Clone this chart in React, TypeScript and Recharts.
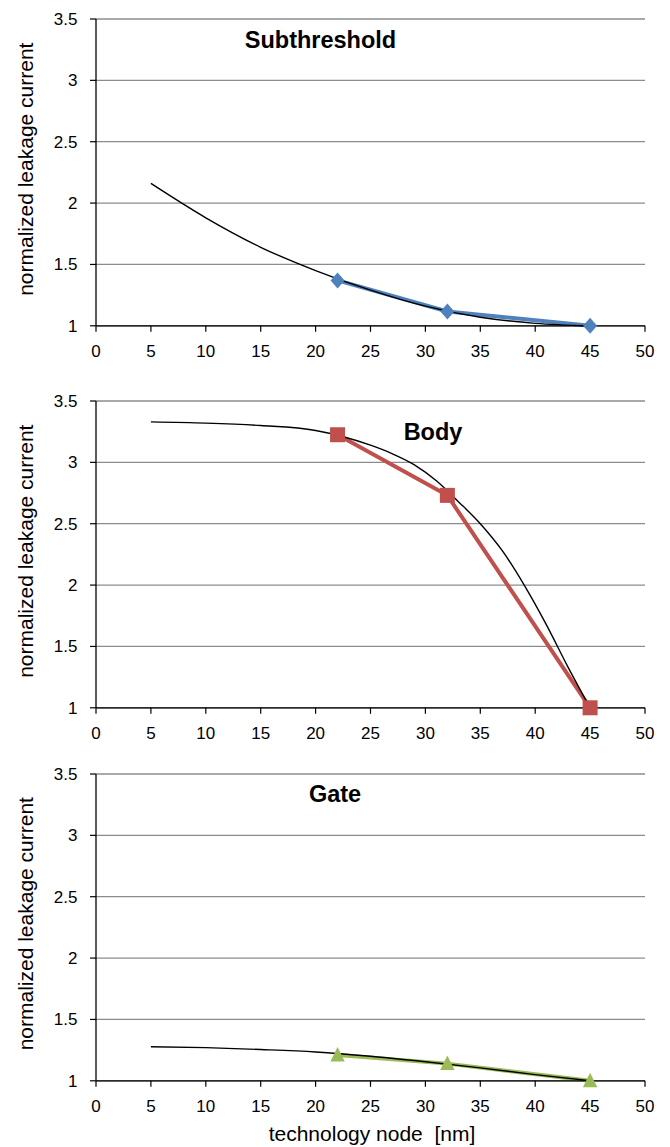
import React from "react";
import { LineChart, Line, XAxis, YAxis, CartesianGrid } from "recharts";

// ---- data ----
const xTicks = [0, 5, 10, 15, 20, 25, 30, 35, 40, 45, 50];
const yTicks = [1, 1.5, 2, 2.5, 3, 3.5];
const nodes = [22, 32, 45];

const subthresholdValues = [1.37, 1.117, 1.0];
const bodyValues = [3.225, 2.731, 1.0];
const gateValues = [1.21, 1.14, 1.0];

const subTrendX = [5, 10, 15, 20, 25, 30, 35, 40, 45];
const subTrendY = [2.16, 1.88, 1.64, 1.45, 1.29, 1.16, 1.07, 1.02, 1.0];

const bodyTrendX = [5, 10, 15, 20, 25, 27, 29, 31, 33, 35, 37, 39, 41, 43, 45];
const bodyTrendY = [3.33, 3.32, 3.3, 3.26, 3.14, 3.07, 2.98, 2.85, 2.68, 2.5, 2.28, 2.0, 1.68, 1.33, 1.0];

const gateTrendX = [5, 10, 15, 20, 25, 30, 35, 40, 45];
const gateTrendY = [1.277, 1.27, 1.255, 1.235, 1.2, 1.155, 1.105, 1.05, 1.0];

const titles = ["Subthreshold", "Body", "Gate"];
const yLabel = "normalized leakage current";
const xLabel = "technology node  [nm]";

const zip = (xs: number[], ys: number[]) => xs.map((x, i) => ({ x, y: ys[i] }));

// ---- layout ----
const FONT = "'Liberation Sans', Arial, Helvetica, sans-serif";
const PLOT_LEFT = 96;
const PLOT_RIGHT = 645;
const PLOT_H = 306.8;
const CHART_TOPS = [19.3, 401.3, 773.8];
const PAD_TOP = 19;

const BLUE = "#4F81BD";
const RED = "#C0504D";
const GREEN = "#9BBB59";

const YTick = (props: any) => {
  const { x, y, payload } = props;
  return (
    <text x={x} y={y + 6} textAnchor="end" fontSize={17} fontFamily={FONT} fill="#000">
      {String(payload.value)}
    </text>
  );
};

const XTick = (props: any) => {
  const { x, y, payload } = props;
  return (
    <text x={x} y={y + 23.5} textAnchor="middle" fontSize={17} fontFamily={FONT} fill="#000">
      {String(payload.value)}
    </text>
  );
};

const diamond = (color: string) => (p: any) => {
  const { cx, cy, index } = p;
  if (cx == null || cy == null) return <g key={index} />;
  return (
    <path
      key={index}
      d={`M${cx},${cy - 8} L${cx + 7},${cy} L${cx},${cy + 8} L${cx - 7},${cy} Z`}
      fill={color}
    />
  );
};

const square = (color: string) => (p: any) => {
  const { cx, cy, index } = p;
  if (cx == null || cy == null) return <g key={index} />;
  return <rect key={index} x={cx - 7.5} y={cy - 7.5} width={15} height={15} fill={color} />;
};

const triangle = (color: string) => (p: any) => {
  const { cx, cy, index } = p;
  if (cx == null || cy == null) return <g key={index} />;
  return (
    <path
      key={index}
      d={`M${cx},${cy - 8} L${cx + 7.2},${cy + 6.5} L${cx - 7.2},${cy + 6.5} Z`}
      fill={color}
    />
  );
};

type PanelProps = {
  top: number;
  values: number[];
  trendX: number[];
  trendY: number[];
  color: string;
  dot: (p: any) => React.ReactElement;
};

const Panel = ({ top, values, trendX, trendY, color, dot }: PanelProps) => {
  const height = PAD_TOP + PLOT_H + 40;
  return (
    <div style={{ position: "absolute", left: 0, top: top - PAD_TOP }}>
      <LineChart
        width={670}
        height={height}
        margin={{ top: PAD_TOP, right: 670 - PLOT_RIGHT, left: 0, bottom: 0 }}
      >
        <CartesianGrid vertical={false} stroke="#8c8c8c" strokeWidth={1.3} />
        <XAxis
          type="number"
          dataKey="x"
          domain={[0, 50]}
          ticks={xTicks}
          interval={0}
          height={40}
          axisLine={{ stroke: "#000", strokeWidth: 1.3 }}
          tickLine={{ stroke: "#000", strokeWidth: 1.2 }}
          tickSize={6}
          tickMargin={2}
          tick={<XTick />}
        />
        <YAxis
          type="number"
          dataKey="y"
          domain={[1, 3.5]}
          ticks={yTicks}
          interval={0}
          width={PLOT_LEFT}
          axisLine={{ stroke: "#000", strokeWidth: 1.3 }}
          tickLine={{ stroke: "#000", strokeWidth: 1.2 }}
          tickSize={6}
          tickMargin={12.5}
          tick={<YTick />}
        />
        <Line
          data={zip(nodes, values)}
          dataKey="y"
          type="linear"
          stroke={color}
          strokeWidth={4}
          dot={dot}
          activeDot={false}
          isAnimationActive={false}
        />
        <Line
          data={zip(trendX, trendY)}
          dataKey="y"
          type="monotone"
          stroke="#000"
          strokeWidth={1.4}
          dot={false}
          activeDot={false}
          isAnimationActive={false}
        />
      </LineChart>
    </div>
  );
};

const titlePos = [
  { x: 320.5, y: 48.3 },
  { x: 433, y: 440 },
  { x: 335, y: 801.7 },
];

export default function App() {
  return (
    <div
      style={{
        position: "absolute",
        left: 0,
        top: 0,
        width: 670,
        height: 1147,
        background: "#fff",
        overflow: "hidden",
      }}
    >
      <Panel top={CHART_TOPS[0]} values={subthresholdValues} trendX={subTrendX} trendY={subTrendY} color={BLUE} dot={diamond(BLUE)} />
      <Panel top={CHART_TOPS[1]} values={bodyValues} trendX={bodyTrendX} trendY={bodyTrendY} color={RED} dot={square(RED)} />
      <Panel top={CHART_TOPS[2]} values={gateValues} trendX={gateTrendX} trendY={gateTrendY} color={GREEN} dot={triangle(GREEN)} />
      <svg
        width={670}
        height={1147}
        style={{ position: "absolute", left: 0, top: 0, pointerEvents: "none" }}
      >
        {titles.map((t, i) => (
          <text
            key={t}
            x={titlePos[i].x}
            y={titlePos[i].y}
            textAnchor="middle"
            fontSize={23.5}
            fontWeight="bold"
            fontFamily={FONT}
            fill="#000"
          >
            {t}
          </text>
        ))}
        {CHART_TOPS.map((t, i) => (
          <text
            key={"yl" + i}
            transform={`translate(33, ${t + PLOT_H / 2 - 3.5}) rotate(-90)`}
            textAnchor="middle"
            fontSize={21}
            fontFamily={FONT}
            fill="#000"
          >
            {yLabel}
          </text>
        ))}
        <text
          x={372}
          y={1140.5}
          textAnchor="middle"
          fontSize={21}
          fontFamily={FONT}
          fill="#000"
          style={{ whiteSpace: "pre" }}
        >
          {xLabel}
        </text>
      </svg>
    </div>
  );
}
